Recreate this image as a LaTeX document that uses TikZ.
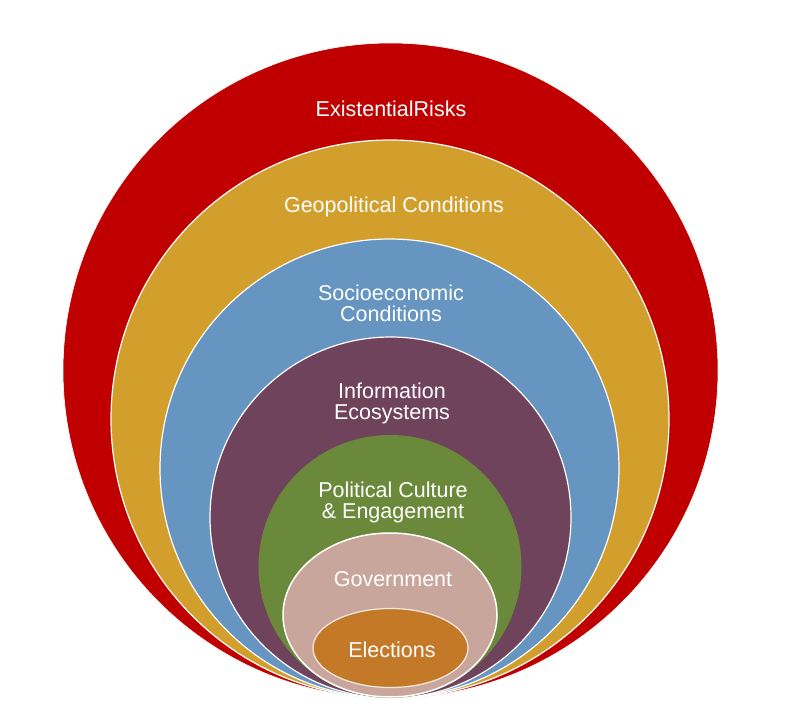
\documentclass[tikz,border=0pt]{standalone}
\usepackage{fontspec}
\setmainfont{Liberation Sans}
\definecolor{cRed}{RGB}{192,0,0}
\definecolor{cGold}{RGB}{210,159,44}
\definecolor{cBlue}{RGB}{101,149,192}
\definecolor{cPurple}{RGB}{111,67,92}
\definecolor{cGreen}{RGB}{106,137,58}
\definecolor{cPink}{RGB}{201,166,156}
\definecolor{cOrange}{RGB}{196,121,40}
\tikzset{
  ring/.style={draw=white, line width=1.2pt},
  lbl/.style={text=white, align=center, inner sep=0pt, font=\fontsize{21.5}{21}\selectfont},
}
\begin{document}
\begin{tikzpicture}[x=1pt,y=-1pt]
\useasboundingbox (0,0) rectangle (795,723);
\fill[white] (0,0) rectangle (795,723);
\draw[ring, fill=cRed, line width=0.6pt] (390.5,370.5) ellipse [x radius=327.5pt, y radius=327.5pt];
\draw[ring, fill=cGold] (390,419) ellipse [x radius=279pt, y radius=279pt];
\draw[ring, fill=cBlue] (389.5,468.5) ellipse [x radius=229.5pt, y radius=229.5pt];
\draw[ring, fill=cPurple] (390.5,517.5) ellipse [x radius=180.5pt, y radius=180.5pt];
\fill[cGreen] (390,566.5) ellipse [x radius=131.5pt, y radius=131.5pt];
\draw[ring, fill=cPink, line width=1.5pt] (390,615) ellipse [x radius=107pt, y radius=82pt];
\draw[ring, fill=cOrange, draw=white!85!cOrange] (390.5,648) ellipse [x radius=77.5pt, y radius=39.5pt];
\node[lbl] (ex) at (391,109) {ExistentialRisks};
\node[lbl] (geo) at (394,207) {Geopolitical Conditions};
\node[lbl] (soc) at (391,303) {Socioeconomic\\Conditions};
\node[lbl] (inf) at (392,403.5) {Information\\Ecosystems};
\node[lbl] (pol) at (393,502) {Political Culture\\\& Engagement};
\node[lbl] (gov) at (393,579) {Government};
\node[lbl] (ele) at (392,650) {Elections};
\end{tikzpicture}
\end{document}
